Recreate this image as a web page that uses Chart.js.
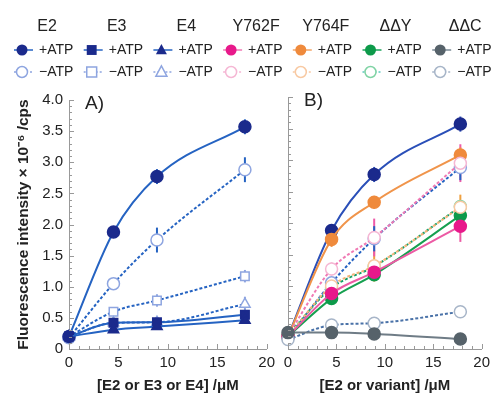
<!DOCTYPE html>
<html><head><meta charset="utf-8">
<script src="https://cdn.jsdelivr.net/npm/chart.js@4.4.1/dist/chart.umd.min.js"></script>
<style>
body{margin:0;background:#fff;width:495px;height:398px;position:relative;overflow:hidden}
canvas{position:absolute}
</style></head><body>
<canvas id="legend" width="495" height="85" style="left:0;top:0"></canvas>
<canvas id="chartA" width="280" height="313" style="left:0;top:85px"></canvas>
<canvas id="chartB" width="217" height="313" style="left:278px;top:85px"></canvas>
<script>
const FONT = "'Liberation Sans', Arial, sans-serif";

// concentrations (µM)
const conc = [0, 4.5, 8.9, 17.8];

// panel A values (x10^6 cps) and error bars
const e2Plus = [0.2, 1.88, 2.77, 3.57];
const e2PlusErr = [0, 0.08, 0.12, 0.12];
const e2Minus = [0.18, 1.05, 1.75, 2.88];
const e2MinusErr = [0, 0.05, 0.2, 0.2];
const e3Plus = [0.2, 0.42, 0.43, 0.55];
const e3PlusErr = [0, 0.05, 0.05, 0.08];
const e3Minus = [0.2, 0.6, 0.78, 1.17];
const e3MinusErr = [0, 0.06, 0.1, 0.1];
const e4Plus = [0.2, 0.31, 0.36, 0.46];
const e4PlusErr = [0, 0.04, 0.04, 0.05];
const e4Minus = [0.2, 0.42, 0.43, 0.72];
const e4MinusErr = [0, 0.04, 0.04, 0.12];

// panel B variants
const y762fPlus = [0.2, 0.88, 1.22, 1.95];
const y762fPlusErr = [0, 0.08, 0.1, 0.25];
const y762fMinus = [0.22, 1.27, 1.77, 2.95];
const y762fMinusErr = [0, 0.1, 0.3, 0.3];
const y764fPlus = [0.2, 1.74, 2.33, 3.08];
const y764fPlusErr = [0, 0.12, 0.1, 0.12];
const y764fMinus = [0.2, 1.0, 1.32, 2.25];
const y764fMinusErr = [0, 0.1, 0.25, 0.2];
const ddyPlus = [0.2, 0.8, 1.18, 2.12];
const ddyPlusErr = [0, 0.06, 0.08, 0.1];
const ddyMinus = [0.22, 0.97, 1.31, 2.26];
const ddyMinusErr = [0, 0.06, 0.08, 0.1];
const ddcPlus = [0.26, 0.26, 0.24, 0.16];
const ddcMinus = [0.15, 0.38, 0.41, 0.59];

const legendNames = ['E2', 'E3', 'E4', 'Y762F', 'Y764F', 'ΔΔY', 'ΔΔC'];
const plusLabel = '+ATP';
const minusLabel = '−ATP';

// styles
const navy = '#1b2a8c', blueLine = '#2563c2', lightBlue = '#8ea5e0';
const legendStyle = [
  {shape:'circle', fill:navy, line:blueLine, open:lightBlue, dot:lightBlue},
  {shape:'rect', fill:navy, line:blueLine, open:lightBlue, dot:lightBlue},
  {shape:'triangle', fill:navy, line:blueLine, open:lightBlue, dot:lightBlue},
  {shape:'circle', fill:'#e8198b', line:'#f07ab4', open:'#f5b7d4', dot:'#f5b7d4'},
  {shape:'circle', fill:'#ef8a3c', line:'#f3a466', open:'#f8c9a2', dot:'#f8c9a2'},
  {shape:'circle', fill:'#0d9a4a', line:'#1aa35a', open:'#7fd3a4', dot:'#5cc6c0'},
  {shape:'circle', fill:'#56626a', line:'#7a8a96', open:'#a7b5c8', dot:'#a7b5c8'}
];

function pts(ys) { return conc.map((x, i) => ({x: x, y: ys[i]})); }

function series(ys, errs, o) {
  return {
    data: pts(ys), errors: errs, errColor: o.err || o.line,
    borderColor: o.line, borderWidth: 2,
    borderDash: o.dash ? [3, 2] : [],
    pointStyle: o.shape || 'circle', pointRadius: o.r || 6, pointHoverRadius: o.r || 6,
    pointBackgroundColor: o.open ? '#fff' : o.fill, pointBorderColor: o.fill,
    pointBorderWidth: 1.5, cubicInterpolationMode: 'monotone', fill: false, clip: false
  };
}

function drawMark(ctx, shape, x, y, r) {
  ctx.beginPath();
  if (shape === 'rect') ctx.rect(x - r * 0.9, y - r * 0.9, r * 1.8, r * 1.8);
  else if (shape === 'triangle') {
    ctx.moveTo(x, y - r * 1.1); ctx.lineTo(x + r, y + r * 0.75); ctx.lineTo(x - r, y + r * 0.75); ctx.closePath();
  } else ctx.arc(x, y, r, 0, Math.PI * 2);
}

// legend strip
(function () {
  const ctx = document.getElementById('legend').getContext('2d');
  ctx.textBaseline = 'middle';
  legendNames.forEach((name, i) => {
    const s = legendStyle[i];
    const mx = 22 + i * 69.7;
    ctx.fillStyle = '#222'; ctx.font = '16px ' + FONT; ctx.textAlign = 'center';
    ctx.fillText(name, mx + 25, 27);
    ctx.font = '14px ' + FONT; ctx.textAlign = 'left';
    // + row
    ctx.strokeStyle = s.line; ctx.lineWidth = 1.5; ctx.setLineDash([]);
    ctx.beginPath(); ctx.moveTo(mx - 8, 50); ctx.lineTo(mx + 11, 50); ctx.stroke();
    drawMark(ctx, s.shape, mx, 50, 5.5); ctx.fillStyle = s.fill; ctx.fill();
    ctx.fillStyle = '#222'; ctx.fillText(plusLabel, mx + 17, 50);
    // - row
    ctx.strokeStyle = s.dot; ctx.setLineDash([2, 2]);
    ctx.beginPath(); ctx.moveTo(mx - 8, 72); ctx.lineTo(mx + 11, 72); ctx.stroke();
    ctx.setLineDash([]);
    drawMark(ctx, s.shape, mx, 72, 5.5); ctx.fillStyle = '#fff'; ctx.fill();
    ctx.strokeStyle = s.open; ctx.stroke();
    ctx.fillStyle = '#222'; ctx.fillText(minusLabel, mx + 17, 72);
  });
})();

const errorBars = {
  id: 'errorBars',
  beforeDatasetsDraw(chart) {
    const ctx = chart.ctx, xs = chart.scales.x, ys = chart.scales.y;
    chart.data.datasets.forEach(ds => {
      if (!ds.errors) return;
      ctx.save(); ctx.strokeStyle = ds.errColor; ctx.lineWidth = 2;
      ds.data.forEach((p, i) => {
        const e = ds.errors[i];
        if (!e) return;
        const x = xs.getPixelForValue(p.x);
        ctx.beginPath();
        ctx.moveTo(x, ys.getPixelForValue(p.y - e));
        ctx.lineTo(x, ys.getPixelForValue(p.y + e));
        ctx.stroke();
      });
      ctx.restore();
    });
  }
};

const innerTicks = {
  id: 'innerTicks',
  afterDraw(chart) {
    const ctx = chart.ctx, xs = chart.scales.x, ys = chart.scales.y, a = chart.chartArea;
    ctx.save(); ctx.strokeStyle = '#999'; ctx.lineWidth = 1;
    for (let i = 0; i <= 40; i++) {
      const y = Math.round(ys.getPixelForValue(i / 10)) + 0.5, len = i % 5 === 0 ? 5 : 3;
      ctx.beginPath(); ctx.moveTo(a.left, y); ctx.lineTo(a.left + len, y); ctx.stroke();
    }
    for (let i = 0; i <= 20; i++) {
      const x = Math.round(xs.getPixelForValue(i)) + 0.5, len = i % 5 === 0 ? 5 : 3;
      ctx.beginPath(); ctx.moveTo(x, a.bottom); ctx.lineTo(x, a.bottom - len); ctx.stroke();
    }
    ctx.fillStyle = '#222'; ctx.font = '19px ' + FONT; ctx.textBaseline = 'middle';
    ctx.fillText(chart.options.plugins.panelLabel.text, a.left + 16, a.top + 4);
    ctx.restore();
  }
};

function makeOptions(label, xTitle, showY, yWidth, pad) {
  return {
    responsive: false, animation: false,
    layout: {padding: pad},
    plugins: {legend: {display: false}, tooltip: {enabled: false}, panelLabel: {text: label}},
    scales: {
      x: {
        type: 'linear', min: 0, max: 20,
        ticks: {stepSize: 5, color: '#222', font: {family: FONT, size: 15}, padding: 5},
        grid: {display: false, drawTicks: false}, border: {display: true, color: '#999'},
        title: {display: true, text: xTitle, color: '#222', font: {family: FONT, size: 15, weight: 'bold'}, padding: {top: 0, bottom: 3}},
        afterFit: s => { s.height = 49; }
      },
      y: {
        min: 0, max: 4,
        ticks: {display: showY, stepSize: 0.5, color: '#222', font: {family: FONT, size: 15}, padding: 6,
          callback: v => v === 0 ? '0' : v.toFixed(1)},
        grid: {display: false, drawTicks: false}, border: {display: true, color: '#999'},
        title: {display: showY, text: 'Fluorescence intensity × 10⁻⁶ /cps', color: '#222',
          font: {family: FONT, size: 15.5, weight: 'bold'}, padding: {top: 14, bottom: 0}},
        afterFit: s => { s.width = yWidth; }
      }
    }
  };
}

const S = legendStyle;
new Chart(document.getElementById('chartA'), {
  type: 'line',
  data: {datasets: [
    series(e4Plus, e4PlusErr, {fill: navy, line: blueLine, shape: 'triangle'}),
    series(e3Plus, e3PlusErr, {fill: navy, line: blueLine, shape: 'rect'}),
    series(e2Plus, e2PlusErr, {fill: navy, line: blueLine}),
    series(e4Minus, e4MinusErr, {fill: lightBlue, line: blueLine, err: lightBlue, shape: 'triangle', open: true, dash: true}),
    series(e3Minus, e3MinusErr, {fill: lightBlue, line: blueLine, err: lightBlue, shape: 'rect', open: true, dash: true}),
    series(e2Minus, e2MinusErr, {fill: lightBlue, line: blueLine, err: blueLine, open: true, dash: true})
  ]},
  options: makeOptions('A)', '[E2 or E3 or E4] /μM', true, 69, {left: 0, right: 10, top: 12, bottom: 0}),
  plugins: [errorBars, innerTicks]
});

new Chart(document.getElementById('chartB'), {
  type: 'line',
  data: {datasets: [
    series(ddcPlus, null, {fill: S[6].fill, line: '#6f7c86'}),
    series(ddcMinus, null, {fill: S[6].open, line: '#4a72a8', open: true, dash: true}),
    series(y762fPlus, y762fPlusErr, {fill: S[3].fill, line: '#ec5aa4'}),
    series(y764fMinus, y764fMinusErr, {fill: S[4].open, line: '#f3b47a', err: '#f0a040', open: true, dash: true}),
    series(ddyPlus, ddyPlusErr, {fill: S[5].fill, line: '#16a050'}),
    series(ddyMinus, ddyMinusErr, {fill: S[5].open, line: '#12a068', open: true, dash: true}),
    series(y762fMinus, y762fMinusErr, {fill: S[3].open, line: '#f07ab4', err: '#ee5aa8', open: true, dash: true}),
    series(e2Minus, e2MinusErr, {fill: lightBlue, line: blueLine, err: blueLine, open: true, dash: true}),
    series(y764fPlus, y764fPlusErr, {fill: S[4].fill, line: '#f0944a'}),
    series(e2Plus, e2PlusErr, {fill: navy, line: '#2a4fb8'})
  ]},
  options: makeOptions('B)', '[E2 or variant] /μM', false, 10, {left: 0, right: 7, top: 12, bottom: 0}),
  plugins: [errorBars, innerTicks]
});
</script>
</body></html>
